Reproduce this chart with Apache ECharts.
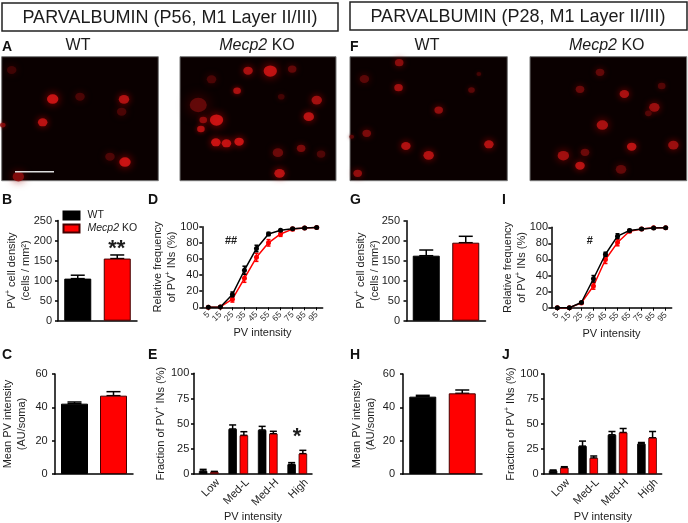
<!DOCTYPE html>
<html><head><meta charset="utf-8"><style>html,body{margin:0;padding:0;background:#fff}#c{width:688px;height:523px}</style>
<script src="https://cdn.jsdelivr.net/npm/echarts@6/dist/echarts.min.js"></script></head>
<body><div id="c"></div><script>
const genotypes = ['WT', 'Mecp2 KO'];
const intensityBins = ['5','15','25','35','45','55','65','75','85','95'];
const fractionBins = ['Low','Med-L','Med-H','High'];
// density / mean intensity (mean, top of error bar), order WT, KO
const p56DensityMean = [105, 155], p56DensityTop = [113.5, 164];
const p56IntensityMean = [42.2, 47], p56IntensityTop = [43.2, 49.4];
const p28DensityMean = [162.5, 195], p28DensityTop = [176.7, 211];
const p28IntensityMean = [46.4, 48.4], p28IntensityTop = [47.2, 50.4];
// cumulative frequency
const p56CumWt = [0,0.5,16,46,73,91,95.5,97.5,98.5,99];
const p56CumWtErr = [0,0.5,3,5,4,2,1,0.5,0.3,0];
const p56CumKo = [0,0.5,10,36,62,80,91,97,98.5,99];
const p56CumKoErr = [0,0.3,3.5,5,5,4,3,2,1,0.3];
const p28CumWt = [0,0,6.5,36,66.5,89,96,98,99,99.5];
const p28CumWtErr = [0,0,1,4,2.5,3,1.5,0.8,0.4,0];
const p28CumKo = [0,0,6,27,60,81,95,98,99.5,99.5];
const p28CumKoErr = [0,0,1,4,5,4,1.5,0.8,0.3,0];
// fractions
const p56FracWt = [3,44.7,43.7,9.6], p56FracWtTop = [4.6,48.7,47.3,11.3];
const p56FracKo = [2,38.4,40,20.2], p56FracKoTop = [2.6,42,42.4,23.5];
const p28FracWt = [3.3,27.9,39.2,30.2], p28FracWtTop = [4,32.9,42.5,31.5];
const p28FracKo = [6.3,16,41.5,36.2], p28FracKoTop = [7.3,18,45.5,42.5];
// micrograph cells: x, y, diameter, brightness
const cellsP56Wt = [[153,127,12,1],[367,128,11,.85],[123,197,10,.9],[370,316,12,1],[235,120,10,.2],[360,165,10,.2],[325,300,10,.22],[50,360,12,.55],[30,40,10,.12],[3,205,6,.55]];
const cellsP56Ko = [[205,42,10,.8],[272,43,14,.95],[338,37,9,.35],[172,102,8,.8],[412,130,11,.75],[388,180,11,.9],[110,190,14,1],[70,190,8,.65],[63,217,8,.85],[55,145,18,.35],[108,257,10,1],[140,260,10,.95],[178,255,10,1],[365,275,9,.5],[295,288,11,.4],[425,292,9,.22],[300,350,11,.9],[95,68,10,.2],[305,120,7,.15]];
const cellsP28Wt = [[147,18,9,.6],[43,67,10,.3],[145,93,9,.75],[265,160,9,.65],[363,100,7,.3],[50,230,9,.5],[167,268,10,.85],[415,263,10,.85],[235,296,11,.85],[23,350,9,.65],[385,52,5,.15],[5,240,5,.3]];
const cellsP28Ko = [[210,47,9,.35],[150,98,9,.4],[283,112,10,.8],[373,152,11,.7],[395,88,8,.25],[217,205,12,.8],[305,270,10,.9],[430,265,11,.7],[100,297,12,.75],[150,327,10,.9],[165,287,9,.4],[273,338,11,.35],[355,170,7,.25]];

const FONT = '"Liberation Sans", Arial, sans-serif', INK = '#1c1c1c';
const richBase = {a:{fontSize:11,color:INK,fontFamily:FONT,lineHeight:14},sup:{fontSize:7,color:INK,fontFamily:FONT,lineHeight:14,verticalAlign:'top'},i:{fontSize:11,fontStyle:'italic',color:INK,fontFamily:FONT,lineHeight:14}};
const legendRich = {a:{fontSize:10.5,color:INK,fontFamily:FONT,lineHeight:14},i:{fontSize:10.5,fontStyle:'italic',color:INK,fontFamily:FONT,lineHeight:14},s:{width:3}};
const grid=[],xAxis=[],yAxis=[],series=[];

function addAxes(box,xData,yMax,yInt,yName,yGap,labelMargin,xOpts){
  const idx=grid.length;
  grid.push({left:box[0],top:box[1],width:box[2],height:box[3]});
  xAxis.push(Object.assign({gridIndex:idx,type:'category',data:xData,nameMoveOverlap:false,
    axisLine:{lineStyle:{color:'#000',width:1.5}},axisTick:{show:false},axisLabel:{show:false}},xOpts||{}));
  yAxis.push({gridIndex:idx,type:'value',min:0,max:yMax,interval:yInt,splitLine:{show:false},nameMoveOverlap:false,
    axisLine:{show:true,lineStyle:{color:'#000',width:1.5}},axisTick:{show:true,length:3,lineStyle:{color:'#000',width:1.5}},
    axisLabel:{fontSize:11,color:INK,fontFamily:FONT,margin:labelMargin},
    name:yName,nameLocation:'middle',nameGap:yGap,nameTextStyle:{rich:richBase,fontSize:11,lineHeight:14,color:INK,fontFamily:FONT}});
  return idx;
}
function errorSeries(idx,name,pts,color,offset,cap,z){
  series.push({type:'custom',name:name,xAxisIndex:idx,yAxisIndex:idx,data:pts,z:z,clip:false,silent:true,encode:{x:0,y:[1,2]},
    renderItem:function(p,api){
      const a=api.coord([api.value(0),api.value(1)]),b=api.coord([api.value(0),api.value(2)]);
      const s={stroke:color,lineWidth:1.5,fill:null},x=a[0]+offset;
      return {type:'group',children:[
        {type:'line',shape:{x1:x,y1:a[1],x2:x,y2:b[1]},style:s},
        {type:'line',shape:{x1:x-cap/2,y1:a[1],x2:x+cap/2,y2:a[1]},style:s},
        {type:'line',shape:{x1:x-cap/2,y1:b[1],x2:x+cap/2,y2:b[1]},style:s}]};
    }});
}
function twoBar(box,means,tops,yMax,yInt,yName,labelMargin,gap){
  const idx=addAxes(box,genotypes,yMax,yInt,yName,gap,labelMargin);
  means.forEach(function(v,i){
    series.push({type:'bar',name:genotypes[i],xAxisIndex:idx,yAxisIndex:idx,barWidth:27,barGap:'-100%',z:3,
      data:genotypes.map(function(_,k){return k===i?v:'-';}),
      itemStyle:{color:i?'#ff0000':'#000',borderColor:i?'#400':'#000',borderWidth:1}});
  });
  errorSeries(idx,'err',means.map(function(m,i){return [i,tops[i],m];}),'#000',0,14,2);
}
function cumPanel(box,wt,wtE,ko,koE,gap,labelMargin){
  const idx=addAxes(box,intensityBins,100,20,'{a|Relative frequency}\n{a|of PV}{sup|+}{a| INs (%)}',gap,labelMargin,
   {axisTick:{show:true,alignWithLabel:true,length:3,lineStyle:{color:'#000',width:1}},
    axisLabel:{show:true,interval:0,rotate:45,fontSize:8.5,color:'#333',fontFamily:FONT,margin:6},
    name:'PV intensity',nameLocation:'middle',nameGap:20.5,nameTextStyle:{fontSize:11,color:INK,fontFamily:FONT}});
  [[ko,koE,'#ff0000','Mecp2 KO',4],[wt,wtE,'#000','WT',6]].forEach(function(s){
    series.push({type:'line',name:s[3],xAxisIndex:idx,yAxisIndex:idx,data:s[0],symbol:'circle',symbolSize:5,showSymbol:true,clip:false,z:s[4],
      lineStyle:{color:s[2],width:1.5},itemStyle:{color:s[2]}});
    errorSeries(idx,'err',s[0].map(function(v,i){return [i,v+s[1][i],v-s[1][i]];}),s[2],0,4,s[4]);
  });
}
function fracPanel(box,wt,wtT,ko,koT,gap,labelMargin){
  const idx=addAxes(box,fractionBins,100,25,'{a|Fraction of PV}{sup|+}{a| INs (%)}',gap,labelMargin,
   {axisLabel:{show:true,interval:0,rotate:45,align:'center',verticalAlign:'middle',margin:16,
      formatter:function(v){return '{t|'+v+'}';},
      rich:{t:{fontSize:11,color:INK,fontFamily:FONT,width:26,align:'right'}}},
    name:'PV intensity',nameLocation:'middle',nameGap:37,nameTextStyle:{fontSize:11,color:INK,fontFamily:FONT}});
  [[wt,wtT,'#000','#000','WT',-5.6],[ko,koT,'#ff0000','#400','Mecp2 KO',5.6]].forEach(function(s){
    series.push({type:'bar',name:s[4],xAxisIndex:idx,yAxisIndex:idx,data:s[0],barWidth:8.5,barGap:'32%',z:3,
      itemStyle:{color:s[2],borderColor:s[3],borderWidth:.8}});
    errorSeries(idx,'err',s[0].map(function(m,i){return [i,s[1][i],m];}),'#000',s[5],7,2);
  });
}
function micro(box,cells){
  const idx=grid.length;
  grid.push({left:box[0],top:box[1],width:box[2],height:box[3],show:true,backgroundColor:'#0a0000',borderColor:'#777',borderWidth:1});
  xAxis.push({gridIndex:idx,type:'value',min:0,max:470,show:false});
  yAxis.push({gridIndex:idx,type:'value',min:0,max:372,inverse:true,show:false});
  series.push({type:'scatter',xAxisIndex:idx,yAxisIndex:idx,silent:true,clip:true,z:2,
    data:cells.map(function(c){
      const r=Math.round(50+180*c[3]),g=Math.round(2+22*c[3]);
      return {value:[c[0],c[1]],symbolSize:[c[2]*.95,c[2]*.8],itemStyle:{color:'rgb('+r+','+g+','+g+')',shadowBlur:c[2]*.7,shadowColor:'rgba('+r+',0,0,0.9)'}};
    })});
}
micro([1.7,56.7,156.6,124],cellsP56Wt);
micro([180,56.7,156,124],cellsP56Ko);
micro([350,56.7,157.3,124],cellsP28Wt);
micro([530,56.7,156.7,124],cellsP28Ko);

const densityName='{a|PV}{sup|+}{a| cell density}\n{a|(cells / mm²)}', intensityName='{a|Mean PV intensity}\n{a|(AU/soma)}';
twoBar([58,220.5,79,100.2],p56DensityMean,p56DensityTop,250,50,densityName,6,25);
twoBar([54.4,374,78.6,100],p56IntensityMean,p56IntensityTop,60,20,intensityName,7.3,26);
twoBar([406.5,220.7,79,100],p28DensityMean,p28DensityTop,250,50,densityName,6.5,24.5);
twoBar([403,374,79,100],p28IntensityMean,p28IntensityTop,60,20,intensityName,8,25);
cumPanel([202.3,226.7,120.4,80.6],p56CumWt,p56CumWtErr,p56CumKo,p56CumKoErr,23.7,3.7);
cumPanel([551.3,227.3,120.4,80.4],p28CumWt,p28CumWtErr,p28CumKo,p28CumKoErr,22.3,3.3);
fracPanel([194,373.3,118,100.7],p56FracWt,p56FracWtTop,p56FracKo,p56FracKoTop,26,4.7);
fracPanel([544,374,117.7,100.3],p28FracWt,p28FracWtTop,p28FracKo,p28FracKoTop,26.3,5.3);

function txt(x,y,s,size,opts){
  return {type:'text',x:x,y:y,silent:true,style:Object.assign({text:s,fontSize:size,fontFamily:FONT,fill:INK,align:'center',verticalAlign:'middle',
    rich:{i:{fontStyle:'italic',fontSize:size,fontFamily:FONT,fill:INK}}},opts||{})};
}
const B={fontWeight:'bold',align:'left',fill:'#111'};
const graphic=[
 {type:'rect',shape:{x:2,y:3,width:336,height:28},style:{fill:'#fff',stroke:'#222',lineWidth:1.5}},
 {type:'rect',shape:{x:350,y:2,width:337,height:28},style:{fill:'#fff',stroke:'#222',lineWidth:1.5}},
 txt(170,18,'PARVALBUMIN (P56, M1 Layer II/III)',18),
 txt(518,17,'PARVALBUMIN (P28, M1 Layer II/III)',18),
 txt(78,46,'WT',16),txt(257,46,'{i|Mecp2} KO',16),txt(427,46,'WT',16),txt(606.7,46,'{i|Mecp2} KO',16),
 txt(2,47,'A',14,B),txt(2,200,'B',14,B),txt(2,355,'C',14,B),txt(148,200,'D',14,B),txt(148,355,'E',14,B),
 txt(350,47,'F',14,B),txt(350,200,'G',14,B),txt(350,355,'H',14,B),txt(502,200,'I',14,B),txt(502,355,'J',14,B),
 {type:'line',z:10,shape:{x1:15,y1:171.7,x2:54,y2:171.7},style:{stroke:'#ddd',lineWidth:1.5}},
 txt(116.7,249,'**',22,{fontWeight:'bold'}),txt(297,437,'*',22,{fontWeight:'bold'}),
 txt(231,240.7,'##',11,{fontWeight:'bold'}),txt(589.7,240.7,'#',11,{fontWeight:'bold'})
];
const chart=echarts.init(document.getElementById('c'),null,{renderer:'canvas'});
chart.setOption({animation:false,backgroundColor:'#fff',grid:grid,xAxis:xAxis,yAxis:yAxis,series:series,graphic:graphic,
  legend:{data:genotypes,icon:'rect',orient:'vertical',left:62.5,top:210,itemWidth:16,itemHeight:8,itemGap:2,selectedMode:false,padding:0,
    formatter:function(n){return n==='WT'?'{s|}{a|WT}':'{s|}{i|Mecp2}{a| KO}';},
    textStyle:{fontFamily:FONT,fontSize:10.5,color:INK,rich:legendRich}}});
</script></body></html>
